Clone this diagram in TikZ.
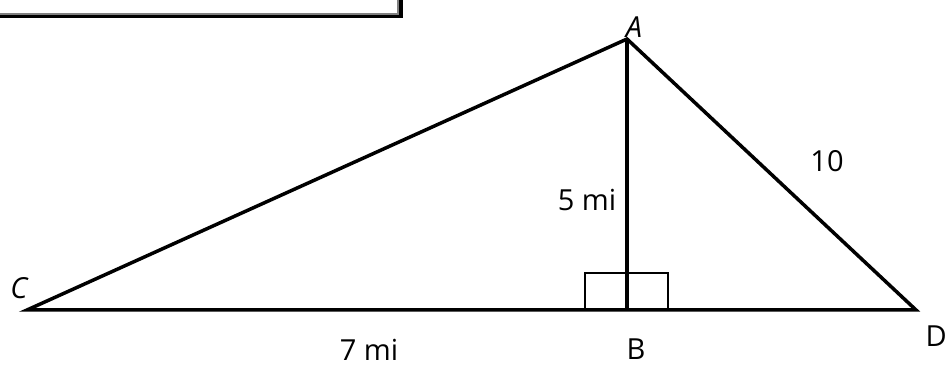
\documentclass[tikz,border=0pt]{standalone}
\usepackage{fontspec}
\setmainfont{Open Sans}
\usetikzlibrary{%
	calc,%
	positioning,%
}
\tikzset{
	side/.style={%
			draw,%
			line width=3.5pt,%
			line join=miter},%
	rightangle/.style={%
			draw,%
			line width=2.5pt},%
	vertexlabel/.style={%
			font={\fontsize{29}{32}\selectfont\itshape},%
			inner sep=0},%
	sidelabel/.style={%
			font={\fontsize{29}{32}\selectfont},%
			inner sep=0},%
	shadowbox/.style={%
			fill=black},%
	framebox/.style={%
			draw=gray,%
			line width=1.5pt,%
			fill=white},%
}

\begin{document}
\begin{tikzpicture}[x=1pt, y=1pt]%
	\useasboundingbox (0,0) rectangle (948,367);
	% box at the top, cut off
	\path[shadowbox] (-1,349) rectangle (403,372);
	\path[framebox] (-6,353) rectangle (398,372);

	\coordinate (A) at (627,328);
	\coordinate (B) at (627,57);
	\coordinate (C) at (27,57);
	\coordinate (D) at (916,57);

	\draw[rightangle] ($(B)+(-42,0)$) rectangle ($(B)+(41,37)$);
	\draw[side] (C) -- (D) -- (A) -- cycle;
	\draw[side] (A) -- (B);

	\node[vertexlabel] (lA) at (634,340) {A};
	\node[sidelabel] (lB) at (636,18) {B};
	\node[vertexlabel] (lC) at (19,79) {C};
	\node[sidelabel, anchor=east] (lD) at (947,31) {D};
	\node[sidelabel] (ab) at (587,167) {5 mi};
	\node[sidelabel] (ad) at (827,206) {10};
	\node[sidelabel] (cb) at (369,17) {7 mi};
\end{tikzpicture}
\end{document}
